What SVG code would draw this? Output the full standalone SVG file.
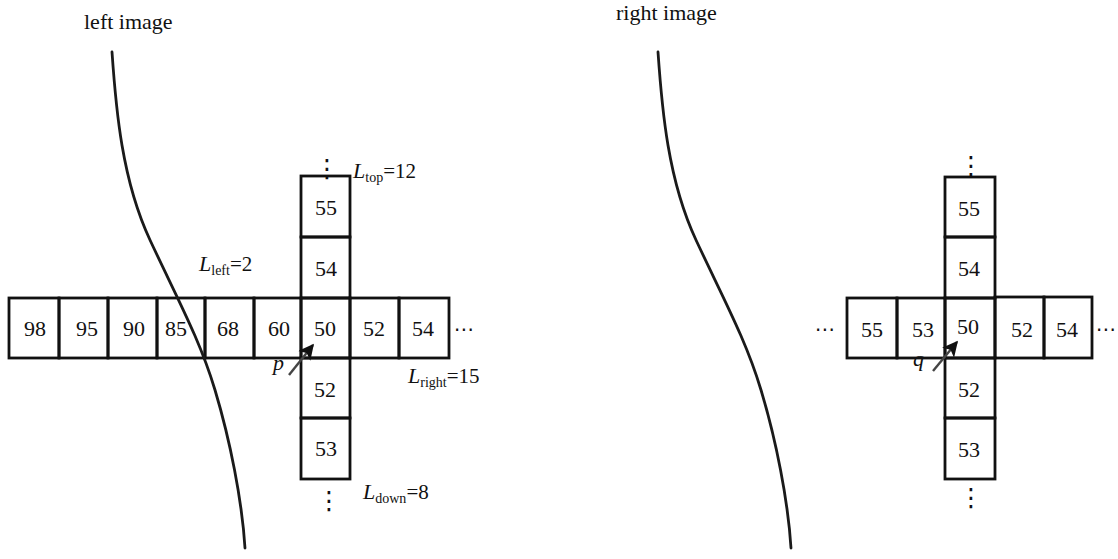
<svg xmlns="http://www.w3.org/2000/svg" width="1118" height="559" viewBox="0 0 1118 559">
  <style>
    .cell rect { fill: none; stroke: #111; stroke-width: 2.8; }
    .cell text { font-family: "Liberation Serif", "Times New Roman", serif; font-size: 22px; fill: #111; text-anchor: middle; }
    .title { font-family: "Liberation Serif", "Times New Roman", serif; font-size: 22px; fill: #111; }
    .lab { font-family: "Liberation Serif", "Times New Roman", serif; font-size: 21px; fill: #111; }
    .lab .it { font-style: italic; font-size: 22px; }
    .lab .sub { font-size: 14px; }
    .dots { font-family: "DejaVu Sans", sans-serif; font-size: 20px; fill: #111; text-anchor: middle; }
    .vdots { font-family: "DejaVu Sans", sans-serif; font-size: 25px; fill: #111; text-anchor: middle; }
    .edge { fill: none; stroke: #1a1a1a; stroke-width: 2.8; stroke-linecap: round; }
    .ptr { stroke: #444; stroke-width: 2.4; fill: none; marker-end: url(#head); }
  </style>
  <defs>
    <marker id="head" viewBox="0 0 10 10" refX="9" refY="5" markerWidth="7.5" markerHeight="6.5" orient="auto" markerUnits="strokeWidth">
      <path d="M0,0 L10,5 L0,10 L2.5,5 Z" fill="#111"/>
    </marker>
    <path id="boundary" d="M112,52 C116,110 122,180 150,240 C178,300 200,340 215,390 C230,440 242,500 245,548"/>
  </defs>

  <!-- titles -->
  <text class="title" x="84" y="29">left image</text>
  <text class="title" x="616" y="20">right image</text>

  <!-- left image: horizontal row -->
  <g id="L98" class="cell"><rect x="9" y="298" width="50" height="60"/><text x="35" y="336">98</text></g>
  <g id="L95" class="cell"><rect x="59" y="298" width="49" height="60"/><text x="87" y="336">95</text></g>
  <g id="L90" class="cell"><rect x="108" y="298" width="49" height="60"/><text x="134" y="336">90</text></g>
  <g id="L85" class="cell"><rect x="157" y="298" width="48" height="60"/><text x="176" y="336">85</text></g>
  <g id="L68" class="cell"><rect x="205" y="298" width="49" height="60"/><text x="228" y="336">68</text></g>
  <g id="L60" class="cell"><rect x="254" y="298" width="47" height="60"/><text x="279" y="336">60</text></g>
  <g id="L52r" class="cell"><rect x="350" y="298" width="49" height="60"/><text x="374" y="336">52</text></g>
  <g id="L54r" class="cell"><rect x="399" y="298" width="50" height="60"/><text x="423" y="336">54</text></g>

  <!-- left image: vertical column -->
  <g id="L55u" class="cell"><rect x="301" y="176" width="49" height="61"/><text x="326" y="215">55</text></g>
  <g id="L54u" class="cell"><rect x="301" y="237" width="49" height="61"/><text x="326" y="276">54</text></g>
  <g id="L50" class="cell"><rect x="301" y="298" width="49" height="60"/><text x="325" y="336">50</text></g>
  <g id="L52d" class="cell"><rect x="301" y="358" width="49" height="60"/><text x="325" y="397">52</text></g>
  <g id="L53d" class="cell"><rect x="301" y="418" width="49" height="61"/><text x="326" y="456">53</text></g>

  <!-- left image: continuation marks -->
  <text class="vdots" x="327" y="177">⋮</text>
  <text class="vdots" x="329" y="509">⋮</text>
  <text class="dots" x="464" y="336">⋯</text>

  <!-- left image: arm lengths -->
  <text class="lab" x="353" y="178"><tspan class="it">L</tspan><tspan class="sub" dy="4">top</tspan><tspan dy="-4">=12</tspan></text>
  <text class="lab" x="199" y="271"><tspan class="it">L</tspan><tspan class="sub" dy="4">left</tspan><tspan dy="-4">=2</tspan></text>
  <text class="lab" x="408" y="383"><tspan class="it">L</tspan><tspan class="sub" dy="4">right</tspan><tspan dy="-4">=15</tspan></text>
  <text class="lab" x="363" y="499"><tspan class="it">L</tspan><tspan class="sub" dy="4">down</tspan><tspan dy="-4">=8</tspan></text>
  <text class="lab" x="273" y="370"><tspan class="it">p</tspan></text>

  <!-- right image: horizontal row -->
  <g id="R55" class="cell"><rect x="847" y="298" width="50" height="60"/><text x="872" y="337">55</text></g>
  <g id="R53" class="cell"><rect x="897" y="298" width="48" height="60"/><text x="923" y="337">53</text></g>
  <g id="R52r" class="cell"><rect x="995" y="297" width="49" height="61"/><text x="1022" y="337">52</text></g>
  <g id="R54r" class="cell"><rect x="1044" y="297" width="48" height="61"/><text x="1067" y="337">54</text></g>

  <!-- right image: vertical column -->
  <g id="R55u" class="cell"><rect x="945" y="177" width="50" height="60"/><text x="969" y="216">55</text></g>
  <g id="R54u" class="cell"><rect x="945" y="237" width="50" height="61"/><text x="969" y="276">54</text></g>
  <g id="R50" class="cell"><rect x="945" y="298" width="50" height="60"/><text x="968" y="334">50</text></g>
  <g id="R52d" class="cell"><rect x="945" y="358" width="50" height="60"/><text x="969" y="397">52</text></g>
  <g id="R53d" class="cell"><rect x="945" y="418" width="50" height="61"/><text x="969" y="457">53</text></g>

  <!-- right image: continuation marks -->
  <text class="vdots" x="971" y="174">⋮</text>
  <text class="vdots" x="971" y="506">⋮</text>
  <text class="dots" x="825" y="336">⋯</text>
  <text class="dots" x="1106" y="336">⋯</text>
  <text class="lab" x="913" y="366"><tspan class="it">q</tspan></text>

  <!-- occlusion boundaries, drawn over the grids -->
  <use href="#boundary" class="edge"/>
  <use href="#boundary" class="edge" transform="translate(546,0)"/>

  <!-- pointers to the centre pixel -->
  <g id="connectors">
    <line class="ptr" x1="289" y1="375" x2="313" y2="345"/>
    <line class="ptr" x1="933" y1="371" x2="957" y2="342"/>
  </g>
</svg>
